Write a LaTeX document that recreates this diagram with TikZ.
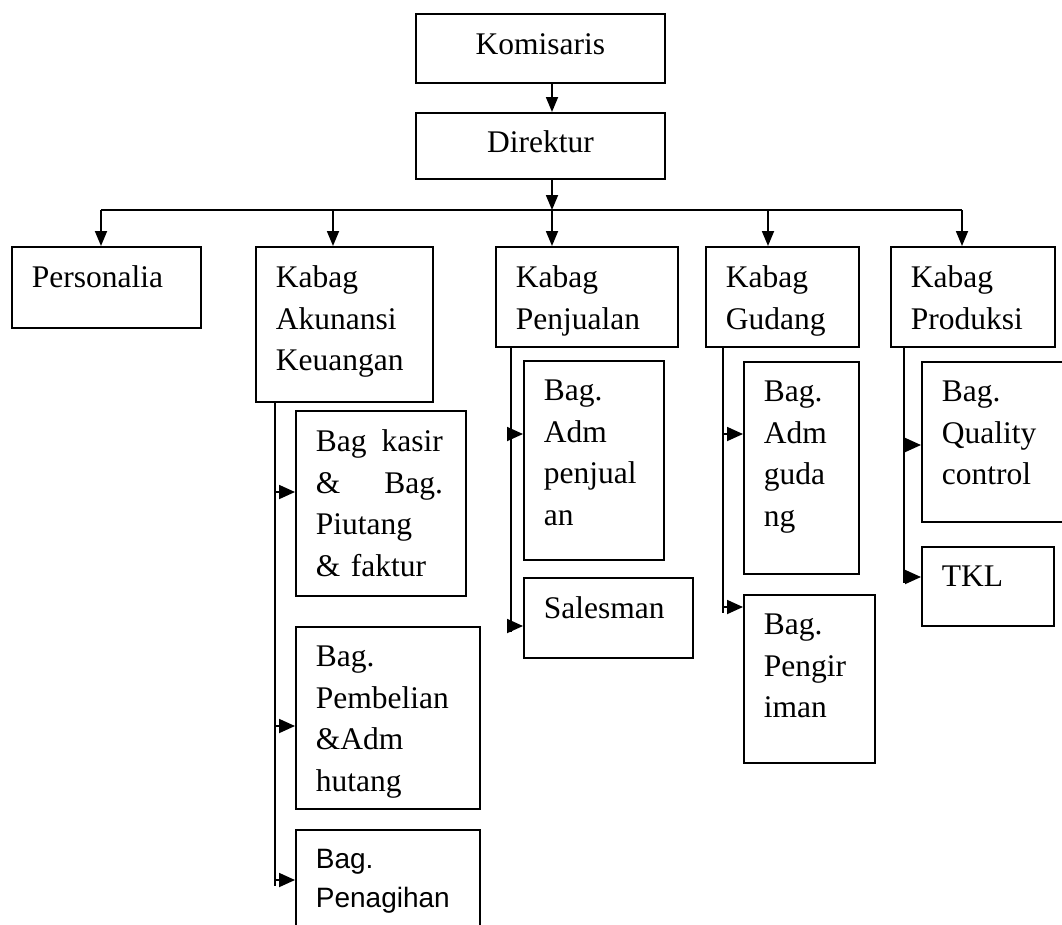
\documentclass[tikz,border=0pt]{standalone}
\usepackage{fontspec}
\setmainfont{Liberation Serif}
\setsansfont{Liberation Sans}
\usetikzlibrary{arrows.meta}

\begin{document}
\begin{tikzpicture}[x=1pt,y=-1pt,>={Triangle[length=15pt,width=12pt]},line width=1.8pt,
        font=\fontsize{31.5}{41.5}\selectfont]
        \tikzstyle{unit}=[rectangle,draw,inner sep=0pt,anchor=north west]
        \tikzstyle{tag}=[anchor=north west,inner sep=0pt,align=left,xshift=20pt,yshift=-19pt]
        \tikzstyle{head}=[text height=22pt,text depth=9.5pt]
        \tikzstyle{sub}=[-{Triangle[length=16pt,width=14pt]}]
        \useasboundingbox (0,0) rectangle (1062,924);
        \clip (0,0) rectangle (1062,924);
        \node[unit,head,minimum width=249pt,minimum height=69pt](kom) at (415,13) {Komisaris};
        \node[unit,head,minimum width=249pt,minimum height=66pt](dir) at (415,112) {Direktur};
        \node[unit,minimum width=189pt,minimum height=81pt,label={[tag]north west:Personalia}](pers) at (11,246) {};
        \node[unit,minimum width=177pt,minimum height=155pt,label={[tag]north west:Kabag\\Akunansi\\Keuangan}](akun) at (255,246) {};
        \node[unit,minimum width=182pt,minimum height=100pt,label={[tag]north west:Kabag\\Penjualan}](jual) at (495,246) {};
        \node[unit,minimum width=153pt,minimum height=100pt,label={[tag]north west:Kabag\\Gudang}](gud) at (705,246) {};
        \node[unit,minimum width=164pt,minimum height=100pt,label={[tag]north west:Kabag\\Produksi}](prod) at (890,246) {};
        \node[unit,minimum width=170pt,minimum height=185pt,
            label={[tag,text width=127pt]north west:Bag\hfill kasir\\\&\hfill Bag.\\Piutang\\\& faktur}](kasir) at (295,410) {};
        \node[unit,minimum width=184pt,minimum height=182pt,label={[tag]north west:Bag.\\Pembelian\\\&Adm\\hutang}](beli) at (295,626) {};
        \node[unit,minimum width=184pt,minimum height=140pt,
            label={[tag,font=\fontsize{28}{39}\sffamily\selectfont]north west:Bag.\\Penagihan}](tagih) at (295,829) {};
        \node[unit,minimum width=140pt,minimum height=199pt,label={[tag]north west:Bag.\\Adm\\penjual\\an}](admj) at (523,360) {};
        \node[unit,minimum width=169pt,minimum height=80pt,label={[tag]north west:Salesman}](sales) at (523,577) {};
        \node[unit,minimum width=115pt,minimum height=212pt,label={[tag]north west:Bag.\\Adm\\guda\\ng}](admg) at (743,361) {};
        \node[unit,minimum width=131pt,minimum height=168pt,label={[tag]north west:Bag.\\Pengir\\iman}](kirim) at (743,594) {};
        \node[unit,minimum width=160pt,minimum height=160pt,label={[tag]north west:Bag.\\Quality\\control}](qc) at (921,361) {};
        \node[unit,minimum width=132pt,minimum height=79pt,label={[tag]north west:TKL}](tkl) at (921,546) {};

        \coordinate (bus) at (552,210);
        \draw[->] (kom.south -| bus) -- (dir.north -| bus);
        \draw[->] (dir.south -| bus) -- (bus);
        \foreach \n/\d in {pers/90,akun/78,jual/57,gud/63,prod/72}
            \coordinate (d\n) at ([xshift=\d pt]\n.north west);
        \draw (dpers |- bus) -- (dprod |- bus);
        \foreach \n in {pers,akun,jual,gud,prod}
            \draw[->] (d\n |- bus) -- (d\n);

        \foreach \p/\t/\c in {akun/20/tagih,jual/16/sales,gud/18/kirim,prod/14/tkl}
            \coordinate (t\p) at ([xshift=\t pt]\p.south west);
        \foreach \p/\c/\d in {akun/kasir/82,akun/beli/100,akun/tagih/51,jual/admj/74,jual/sales/49,
                gud/admg/73,gud/kirim/13,prod/qc/84,prod/tkl/31}
            \coordinate (e\c) at ([yshift=-\d pt]\c.north west);
        \foreach \p/\c in {akun/tagih,jual/sales,gud/kirim,prod/tkl}
            \draw (t\p) -- ([yshift=-6pt]e\c -| t\p);
        \foreach \p/\c in {akun/kasir,akun/beli,akun/tagih,jual/admj,jual/sales,
                gud/admg,gud/kirim,prod/qc,prod/tkl}
            \draw[sub] (e\c -| t\p) -- (e\c);
\end{tikzpicture}
\end{document}
